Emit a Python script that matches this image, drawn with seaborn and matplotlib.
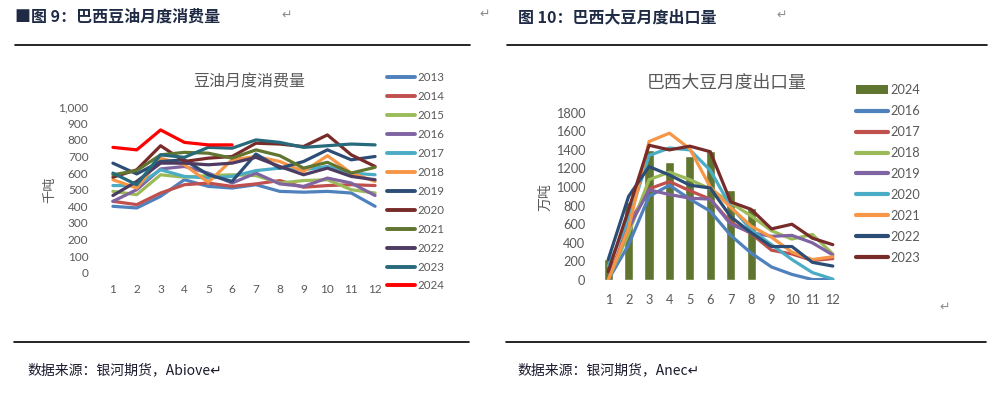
import matplotlib
matplotlib.use("Agg")
import matplotlib.pyplot as plt
import seaborn as sns
import pandas as pd
from matplotlib.lines import Line2D
from matplotlib.patches import Patch

# ---------------- data: left chart (soybean oil consumption, 千吨) ----------------
months = list(range(1, 13))
oil_years = ["2013", "2014", "2015", "2016", "2017", "2018",
             "2019", "2020", "2021", "2022", "2023", "2024"]
oil_2013 = [400, 390, 460, 560, 520, 510, 530, 490, 485, 490, 480, 400]
oil_2014 = [430, 410, 480, 530, 540, 520, 535, 555, 515, 525, 530, 525]
oil_2015 = [490, 470, 590, 575, 585, 590, 585, 540, 555, 560, 500, 480]
oil_2016 = [430, 500, 625, 640, 600, 540, 600, 535, 520, 570, 540, 465]
oil_2017 = [525, 525, 620, 580, 570, 580, 615, 630, 620, 640, 600, 590]
oil_2018 = [560, 510, 690, 650, 545, 680, 700, 670, 610, 705, 600, 550]
oil_2019 = [660, 595, 670, 680, 590, 550, 715, 630, 670, 740, 680, 700]
oil_2020 = [575, 620, 765, 670, 690, 700, 780, 775, 760, 830, 710, 640]
oil_2021 = [590, 615, 710, 725, 720, 690, 740, 705, 630, 665, 600, 635]
oil_2022 = [465, 550, 660, 660, 650, 660, 695, 640, 590, 630, 580, 560]
oil_2023 = [600, 530, 710, 695, 755, 750, 800, 785, 755, 765, 775, 770]
oil_2024 = [755, 740, 860, 785, 770, 770]
oil_series = [oil_2013, oil_2014, oil_2015, oil_2016, oil_2017, oil_2018,
              oil_2019, oil_2020, oil_2021, oil_2022, oil_2023, oil_2024]
oil_colors = ["#4F81BD", "#C0504D", "#9BBB59", "#8064A2", "#4BACC6", "#F79646",
              "#2C4D75", "#772C2A", "#5F7530", "#4D3B62", "#276A7C", "#FF0000"]

# ---------------- data: right chart (soybean exports, 万吨) ----------------
exp_bar_year = "2024"
exp_2024 = [226, 843, 1400, 1265, 1338, 1388, 972, 778]
exp_years = ["2016", "2017", "2018", "2019", "2020", "2021", "2022", "2023"]
exp_2016 = [0, 380, 900, 1020, 870, 740, 480, 290, 140, 60, 5, 5]
exp_2017 = [0, 600, 980, 1060, 960, 870, 620, 500, 320, 280, 210, 230]
exp_2018 = [0, 500, 1080, 1160, 1080, 980, 830, 690, 530, 440, 490, 280]
exp_2019 = [0, 560, 970, 920, 880, 870, 600, 510, 470, 480, 400, 270]
exp_2020 = [150, 650, 1340, 1420, 1400, 1180, 790, 540, 380, 220, 80, 10]
exp_2021 = [0, 560, 1490, 1580, 1410, 1000, 780, 580, 460, 300, 220, 250]
exp_2022 = [220, 900, 1220, 1130, 1020, 990, 680, 510, 360, 360, 190, 150]
exp_2023 = [90, 760, 1450, 1400, 1440, 1380, 840, 760, 550, 600, 450, 380]
exp_series = [exp_2016, exp_2017, exp_2018, exp_2019, exp_2020, exp_2021, exp_2022, exp_2023]
exp_colors = ["#4F81BD", "#C0504D", "#9BBB59", "#8064A2", "#4BACC6", "#F79646",
              "#2C4D75", "#772C2A"]
bar_color = "#5F7530"

# ---------------- build tables ----------------
oil_df = pd.DataFrame(
    [(m, v, y) for y, s in zip(oil_years, oil_series) for m, v in zip(months, s)],
    columns=["month", "value", "year"])
exp_df = pd.DataFrame(
    [(m, v, y) for y, s in zip(exp_years, exp_series) for m, v in zip(months, s)],
    columns=["month", "value", "year"])
bar_df = pd.DataFrame({"month": months[:len(exp_2024)], "value": exp_2024})

# ---------------- figure ----------------
sns.set_theme(style="white")
plt.rcParams["font.family"] = ["Lato", "Noto Sans CJK SC", "DejaVu Sans"]
W, H = 1001, 394
fig = plt.figure(figsize=(W / 100, H / 100), dpi=100)
fig.patch.set_facecolor("white")
CJK = ["Noto Sans CJK SC", "DejaVu Sans"]
GRAY = "#595959"


def px_axes(x0, y0, x1, y1):
    return fig.add_axes([x0 / W, 1 - y1 / H, (x1 - x0) / W, (y1 - y0) / H])


def fx(x):
    return x / W


def fy(y):
    return 1 - y / H


def style_axes(ax):
    for s in ax.spines.values():
        s.set_visible(False)
    ax.tick_params(axis="both", length=0, colors=GRAY, labelsize=8.5)
    ax.set_xlabel("")
    ax.set_ylabel("")
    ax.set_facecolor("none")


# ---- left chart ----
axL = px_axes(101, 106.7, 387, 272.7)
sns.lineplot(data=oil_df, x="month", y="value", hue="year", hue_order=oil_years,
             palette=dict(zip(oil_years, oil_colors)), linewidth=2.3,
             legend=False, ax=axL)
axL.set_xlim(0.5, 12.5)
axL.set_ylim(0, 1000)
axL.set_xticks(months)
axL.set_yticks(range(0, 1001, 100))
axL.set_yticklabels([f"{v:,}" for v in range(0, 1001, 100)])
style_axes(axL)
axL.tick_params(axis="x", pad=8)
axL.tick_params(axis="y", pad=9)
fig.text(fx(249), fy(82), "豆油月度消费量", family=CJK, fontsize=11.5, color=GRAY,
         ha="center", va="center")
fig.text(fx(50), fy(190), "千吨", family=CJK, fontsize=9.5, color=GRAY,
         ha="center", va="center", rotation=90)
handlesL = [Line2D([], [], color=c, lw=2.8) for c in oil_colors]
fig.legend(handlesL, oil_years, loc="upper left", bbox_to_anchor=(fx(387), fy(72)),
           frameon=False, fontsize=8.3, labelcolor=GRAY, handlelength=2.4,
           handletextpad=0.25, labelspacing=0.69, borderpad=0, borderaxespad=0)

# ---- right chart ----
axR = px_axes(598, 112.7, 843, 280)
sns.barplot(data=bar_df, x="month", y="value", native_scale=True, width=0.45,
            color=bar_color, saturation=1, ax=axR)
sns.lineplot(data=exp_df, x="month", y="value", hue="year", hue_order=exp_years,
             palette=dict(zip(exp_years, exp_colors)), linewidth=2.3,
             legend=False, ax=axR)
axR.set_xlim(0.5, 12.5)
axR.set_ylim(0, 1800)
axR.set_xticks(months)
axR.set_xticklabels([str(m) for m in months])
axR.set_yticks(range(0, 1801, 200))
style_axes(axR)
axR.tick_params(axis="both", labelsize=9.2)
axR.tick_params(axis="x", pad=10)
axR.tick_params(axis="y", pad=9)
fig.text(fx(727), fy(83), "巴西大豆月度出口量", family=CJK, fontsize=12.8, color=GRAY,
         ha="center", va="center")
fig.text(fx(545), fy(197), "万吨", family=CJK, fontsize=10, color=GRAY,
         ha="center", va="center", rotation=90)
handlesR = [Patch(facecolor=bar_color, edgecolor="none")] + \
           [Line2D([], [], color=c, lw=3) for c in exp_colors]
fig.legend(handlesR, [exp_bar_year] + exp_years, loc="upper left",
           bbox_to_anchor=(fx(856), fy(84)), frameon=False, fontsize=9.2,
           labelcolor=GRAY, handlelength=2.5, handleheight=0.6,
           handletextpad=0.2, labelspacing=0.70, borderpad=0, borderaxespad=0)

# ---- document decorations ----
NAVY = "#1F2A44"
fig.text(fx(15), fy(17), "■图 9：巴西豆油月度消费量", family=CJK, fontsize=11.5,
         fontweight="bold", color=NAVY, ha="left", va="center")
fig.text(fx(518), fy(17), "图 10：巴西大豆月度出口量", family=CJK, fontsize=11.5,
         fontweight="bold", color=NAVY, ha="left", va="center")
for x, y in [(287, 15), (485, 14), (782, 15), (945, 307)]:
    fig.text(fx(x), fy(y), "↵", family=["DejaVu Sans"], fontsize=9, color="#8c8c8c",
             ha="center", va="center")
for x0, x1, y in [(15, 470, 45), (507, 987, 45), (14, 469, 342), (506, 986, 342)]:
    fig.add_artist(Line2D([fx(x0), fx(x1)], [fy(y), fy(y)], color="black", lw=1.2))
fig.text(fx(27), fy(370), "数据来源：银河期货，Abiove↵", family=CJK, fontsize=10,
         color="#1a1a2e", ha="left", va="center")
fig.text(fx(517), fy(370), "数据来源：银河期货，Anec↵", family=CJK, fontsize=10,
         color="#1a1a2e", ha="left", va="center")

fig.savefig("out.png", dpi=100, facecolor="white")
